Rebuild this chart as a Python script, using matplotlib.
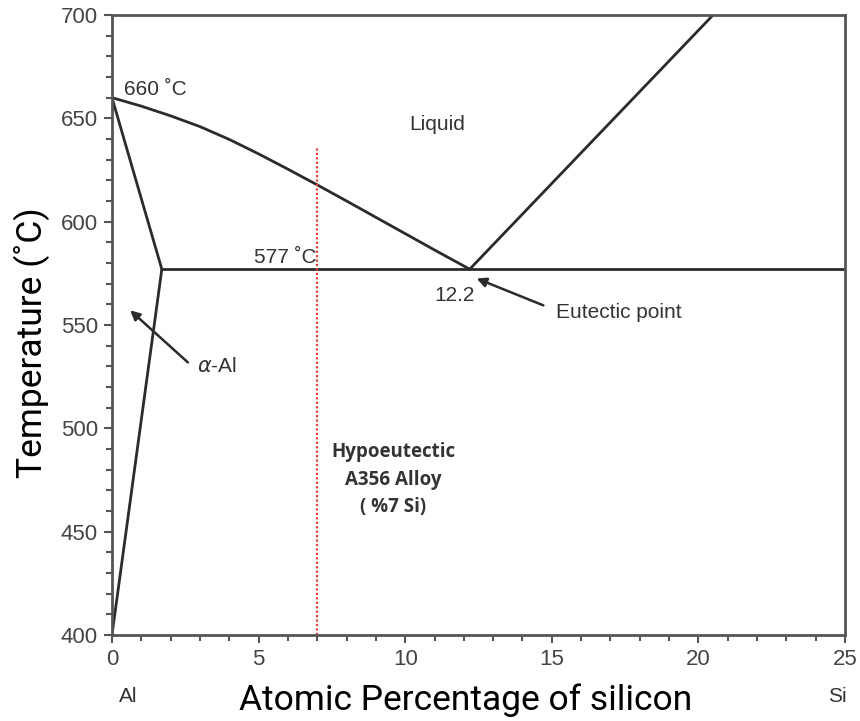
import matplotlib.pyplot as plt
import numpy as np
from matplotlib.ticker import MultipleLocator

# phase diagram lines (atomic % Si, temperature C)
liq_al_x = [0, 1, 2, 3, 4, 5, 6, 7, 8, 9, 10, 11, 12.2]
liq_al_t = [660, 655.9, 651.2, 646.0, 639.8, 632.8, 625.4, 617.8, 610.0, 602.1, 594.2, 586.3, 577]
liq_si_x = [12.2, 20.5]
liq_si_t = [577, 700]
solidus_x = [0, 1.7]
solidus_t = [660, 577]
solvus_x = [1.7, 0]
solvus_t = [577, 400]
eutectic_x = [1.7, 25]
eutectic_t = [577, 577]
alloy_x = 7
alloy_t = [400, 636]

ink = '#333333'
tickfont = ['Liberation Sans', 'DejaVu Sans']

fig = plt.figure(figsize=(8.6, 7.21), dpi=100)
ax = fig.add_axes([0.1302, 0.1193, 0.8524, 0.8599])

lw = 2
for xs, ts in [(liq_al_x, liq_al_t), (liq_si_x, liq_si_t), (solidus_x, solidus_t),
               (solvus_x, solvus_t), (eutectic_x, eutectic_t)]:
    ax.plot(xs, ts, color='#2b2b2b', linewidth=lw, solid_capstyle='round', solid_joinstyle='round')

ax.plot([alloy_x, alloy_x], alloy_t, color='#e8403a', linewidth=1.6, linestyle=(0, (1, 1)))

ax.set_xlim(0, 25)
ax.set_ylim(400, 700)
ax.xaxis.set_major_locator(MultipleLocator(5))
ax.xaxis.set_minor_locator(MultipleLocator(1))
ax.yaxis.set_major_locator(MultipleLocator(50))
ax.yaxis.set_minor_locator(MultipleLocator(10))
ax.tick_params(which='both', direction='out', color='#555555', width=1.5)
ax.tick_params(which='major', length=6, labelsize=16, labelcolor='#444444', pad=4)
ax.tick_params(which='minor', length=4)
for lab in ax.get_xticklabels() + ax.get_yticklabels():
    lab.set_family(tickfont)
for s in ax.spines.values():
    s.set_color('#555555')
    s.set_linewidth(2)

ax.set_xlabel('Atomic Percentage of silicon', fontsize=25.5, family='Roboto', va='center')
ax.xaxis.set_label_coords(0.482, -0.105)
ax.set_ylabel('Temperature (˚C)', fontsize=25.5, family='Roboto', va='center')
ax.yaxis.set_label_coords(-0.109, 0.472)

tk = dict(color=ink, family=tickfont, fontsize=15)
ax.text(0.4, 664, '660 ˚C', ha='left', va='center', **tk)
ax.text(11.1, 647, 'Liquid', ha='center', va='center', **tk)
ax.text(5.9, 582.5, '577 ˚C', ha='center', va='center', **tk)
ax.text(11.7, 564.5, '12.2', ha='center', va='center', **tk)
ax.text(17.3, 556, 'Eutectic point', ha='center', va='center', **tk)
ax.text(2.9, 530, '$\\alpha$-Al', ha='left', va='center', **tk)

ax.annotate('', xy=(12.35, 573), xytext=(14.8, 559),
            arrowprops=dict(arrowstyle='-|>', color='#2b2b2b', lw=1.8, mutation_scale=14))
ax.annotate('', xy=(0.55, 558), xytext=(2.66, 531),
            arrowprops=dict(arrowstyle='-|>', color='#2b2b2b', lw=1.8, mutation_scale=14))

ax.text(9.6, 475, 'Hypoeutectic\nA356 Alloy\n( %7 Si)', ha='center', va='center',
        fontsize=13.5, fontweight='bold', family='Open Sans', color=ink, linespacing=1.5)

ax.text(0.022, -0.1, 'Al', transform=ax.transAxes, ha='center', va='center', **tk)
ax.text(0.99, -0.1, 'Si', transform=ax.transAxes, ha='center', va='center', **tk)

plt.savefig('out.png', dpi=100)
